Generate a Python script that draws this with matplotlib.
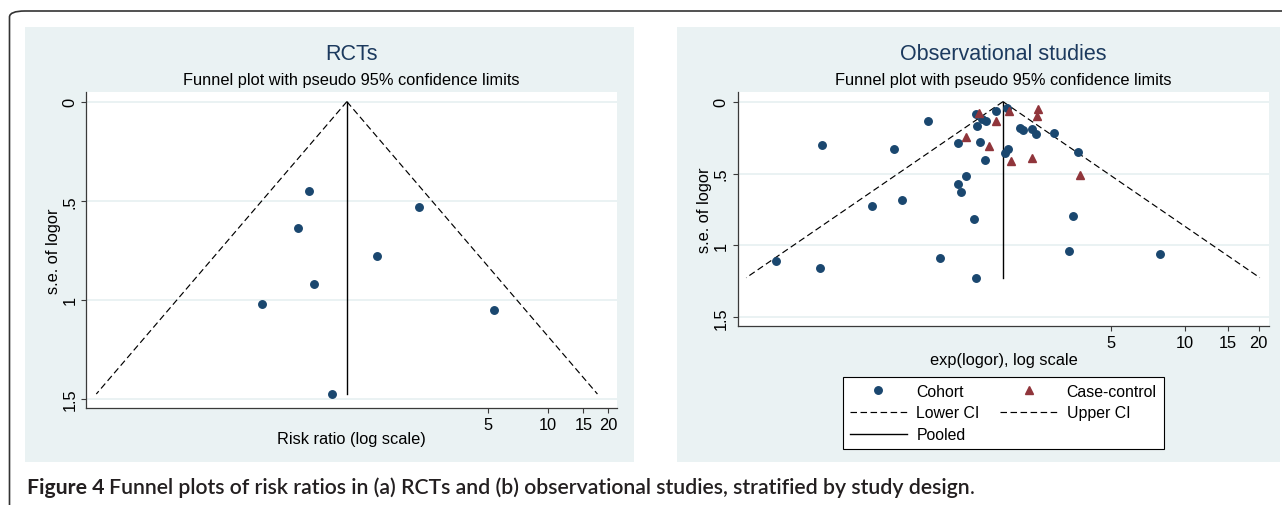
import numpy as np
import matplotlib
matplotlib.use("Agg")
import matplotlib.pyplot as plt
from matplotlib.lines import Line2D
from matplotlib.patches import Rectangle, FancyBboxPatch

plt.rcParams['font.family'] = ['Liberation Sans', 'DejaVu Sans']

# RCTs: risk ratio and s.e. of log ratio
rct_rr = [0.63, 2.25, 0.56, 1.38, 0.67, 0.37, 5.33, 0.83]
rct_se = [0.45, 0.53, 0.64, 0.78, 0.92, 1.02, 1.05, 1.475]
rct_pooled = 0.98

# observational studies, cohort
coh_rr = [0.219, 0.338, 0.332, 0.539, 0.663, 0.710, 0.906, 1.013, 1.20, 1.206,
          1.237, 1.29, 1.397, 1.42, 1.427, 1.43, 1.47, 1.50, 1.56, 1.55,
          1.71, 1.87, 1.91, 1.90, 2.15, 2.21, 2.40, 2.49, 2.95, 3.40,
          3.53, 3.68, 7.96]
coh_se = [1.111, 0.302, 1.155, 0.729, 0.332, 0.684, 0.134, 1.088, 0.285, 0.575,
          0.629, 0.520, 0.814, 0.088, 1.225, 0.167, 0.283, 0.118, 0.132, 0.406,
          0.065, 0.359, 0.327, 0.042, 0.181, 0.197, 0.192, 0.222, 0.216, 1.042,
          0.798, 0.352, 1.062]

# observational studies, case-control
cc_rr = [1.46, 1.30, 1.71, 1.61, 1.93, 1.98, 2.41, 2.52, 2.55, 3.76]
cc_se = [0.079, 0.248, 0.132, 0.306, 0.062, 0.410, 0.395, 0.102, 0.053, 0.510]
obs_pooled = 1.83

xticks = [5, 10, 15, 20]
yticks = [0, 0.5, 1, 1.5]
ytick_labels = ['0', '.5', '1', '1.5']

navy = '#1A476F'
maroon = '#90353B'
panel_bg = '#EAF2F3'
title_col = '#1C3A5E'
axis_col = '#3a3a3a'
dash = (0, (5.5, 3))
fs = 11.8

W, H = 1282, 506
fig = plt.figure(figsize=(W / 100, H / 100), dpi=100)


def fx(px):
    return px / W


def fy(py):
    return 1 - py / H


# outer rounded frame and the two grey panels (behind the axes)
fig.patches.append(FancyBboxPatch((fx(9.5), fy(512)), fx(1300), 500 / H,
                                  boxstyle='round,pad=0,rounding_size=0.012',
                                  transform=fig.transFigure, fill=False,
                                  ec='#333333', lw=1.2, zorder=-10))
fig.patches.append(Rectangle((fx(25), fy(463.3)), fx(609), 435 / H,
                             transform=fig.transFigure, color=panel_bg, lw=0,
                             zorder=-10))
fig.patches.append(Rectangle((fx(676.7), fy(463.3)), fx(603.3), 435 / H,
                             transform=fig.transFigure, color=panel_bg, lw=0,
                             zorder=-10))

ax1 = fig.add_axes([fx(86), fy(409.3), fx(617.3 - 86), (409.3 - 93.3) / H])
ax2 = fig.add_axes([fx(737.5), fy(327.3), fx(1269.3 - 737.5), (327.3 - 93.3) / H])


def funnel(ax, pooled, se_all):
    se_max = max(se_all)
    s = np.array([0, se_max])
    ax.plot(pooled * np.exp(-1.96 * s), s, color='black', lw=0.85, ls=dash)
    ax.plot(pooled * np.exp(1.96 * s), s, color='black', lw=0.85, ls=dash)
    ax.plot([pooled, pooled], [0, se_max], color='black', lw=1.0)


def style(ax, xlim, ylim, xlabel, xlab_y):
    ax.set_xscale('log')
    ax.set_xlim(*xlim)
    ax.set_ylim(*ylim)
    ax.set_xticks(xticks)
    ax.set_xticklabels([str(t) for t in xticks])
    ax.xaxis.set_minor_locator(matplotlib.ticker.NullLocator())
    ax.set_yticks(yticks)
    ax.set_yticklabels(ytick_labels, rotation=90, va='center')
    ax.yaxis.grid(True, color=panel_bg, lw=1.4)
    ax.set_axisbelow(True)
    for sp in ['top', 'right']:
        ax.spines[sp].set_visible(False)
    for sp in ['left', 'bottom']:
        ax.spines[sp].set_color(axis_col)
        ax.spines[sp].set_linewidth(0.9)
    ax.tick_params(length=3.8, width=0.8, color=axis_col, labelsize=fs,
                   pad=2.5)
    ax.set_xlabel(xlabel, fontsize=fs)
    ax.xaxis.set_label_coords(0.5, xlab_y)
    ax.xaxis.label.set_va('center')
    ax.set_ylabel('s.e. of logor', fontsize=fs)
    ax.yaxis.set_label_coords(-0.062, 0.5)
    ax.yaxis.label.set_va('center')


# (a) RCTs
funnel(ax1, rct_pooled, rct_se)
ax1.plot(rct_rr, rct_se, 'o', color=navy, ms=5.4)
style(ax1, (np.exp(-3.03), np.exp(3.10)), (1.547, -0.047),
      'Risk ratio (log scale)', (409.3 - 440) / 316)

# (b) observational studies
funnel(ax2, obs_pooled, coh_se + cc_se)
ax2.plot(coh_rr, coh_se, 'o', color=navy, ms=5.4)
ax2.plot(cc_rr, cc_se, '^', color=maroon, ms=6)
style(ax2, (np.exp(-1.878), np.exp(3.094)), (1.563, -0.065),
      'exp(logor), log scale', (327.3 - 360.7) / 234)

for cx, title in [(351.6, 'RCTs'), (1003.4, 'Observational studies')]:
    fig.text(fx(cx), fy(54.8), title, ha='center', va='center',
             fontsize=15.5, color=title_col)
    fig.text(fx(cx), fy(80.6), 'Funnel plot with pseudo 95% confidence limits',
             ha='center', va='center', fontsize=fs, color='black')

h_coh = Line2D([], [], ls='none', marker='o', color=navy, ms=5.4)
h_cc = Line2D([], [], ls='none', marker='^', color=maroon, ms=6)
h_lo = Line2D([], [], color='black', lw=0.85, ls=dash)
h_up = Line2D([], [], color='black', lw=0.85, ls=dash)
h_pool = Line2D([], [], color='black', lw=1.0)
leg = fig.legend([h_coh, h_lo, h_pool, h_cc, h_up],
                 ['Cohort', 'Lower CI', 'Pooled', 'Case-control', 'Upper CI'],
                 ncol=2, loc='upper left', bbox_to_anchor=(fx(842.7), fy(377.7)),
                 fontsize=11.4, handlelength=3.6, handletextpad=0.6,
                 columnspacing=1.3, labelspacing=0.42, borderpad=0.45,
                 fancybox=False, edgecolor='black', framealpha=1,
                 borderaxespad=0)
leg.get_frame().set_linewidth(0.8)

# caption below the panels
cap_font = ['Lato', 'DejaVu Sans']
cap_col = '#231F20'
cap_fs = 15.35
t1 = fig.text(fx(26.7), fy(494.3), 'Figure 4 ', ha='left', va='baseline',
              fontsize=cap_fs, fontweight='bold', family=cap_font, color=cap_col)
ann = fig.text(0, fy(494.3), 'Funnel plots of risk ratios in (a) RCTs and (b) '
               'observational studies, stratified by study design',
               ha='left', va='baseline', fontsize=cap_fs, fontweight='semibold',
               family=cap_font, color=cap_col)
fig.canvas.draw()
r = fig.canvas.get_renderer()
ann.set_x(t1.get_window_extent(r).x1 / W)
fig.text(ann.get_window_extent(r).x1 / W, fy(494.3), '.', ha='left',
         va='baseline', fontsize=cap_fs, family=cap_font, color=cap_col)

fig.savefig('out.png', dpi=100)
